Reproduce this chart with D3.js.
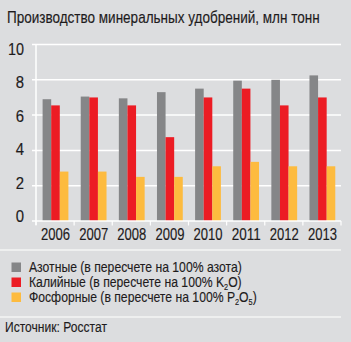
<!DOCTYPE html>
<html><head><meta charset="utf-8">
<script src="https://cdn.jsdelivr.net/npm/d3@7"></script>
<style>
html,body{margin:0;padding:0;background:#dcdddf;}
svg{display:block;}
text{font-family:"Liberation Sans",Arial,sans-serif;fill:#1e1b1c;stroke:#1e1b1c;stroke-width:0.15;}
</style></head>
<body><svg id="c" width="351" height="342"></svg>
<script>
const title = "Производство минеральных удобрений, млн тонн";
const years = ["2006","2007","2008","2009","2010","2011","2012","2013"];
const nitrogen = [6.9, 7.05, 6.95, 7.3, 7.5, 7.95, 8.0, 8.25];
const potash = [6.55, 7.0, 6.55, 4.75, 7.0, 7.5, 6.55, 7.0];
const phosphate = [2.8, 2.8, 2.5, 2.5, 3.1, 3.35, 3.1, 3.1];
const yTicks = [0, 2, 4, 6, 8, 10];
const seriesNames = ["nitrogen", "potash", "phosphate"];
const seriesColors = ["#858688", "#ec1c24", "#fdbb3f"];
const legendItems = [
  [{t:"Азотные (в пересчете на 100% азота)"}],
  [{t:"Калийные (в пересчете на 100% K"},{t:"2",sub:true},{t:"O)"}],
  [{t:"Фосфорные (в пересчете на 100% P"},{t:"2",sub:true},{t:"O"},{t:"5",sub:true},{t:")"}]
];
const source = "Источник: Росстат";

const svg = d3.select("#c");
svg.append("rect").attr("width",351).attr("height",342).attr("fill","#dcdddf");

// horizontally compress a text to a target width, anchored at its x
function fit(sel, w){
  sel.each(function(){
    const el = d3.select(this);
    const nat = this.getComputedTextLength();
    const k = w / nat;
    const x = +el.attr("x");
    el.attr("transform", `translate(${x},0) scale(${k},1) translate(${-x},0)`);
  });
}

const tt = svg.append("text").attr("x",7).attr("y",23.5).attr("font-size",16).text(title);
fit(tt, 313);

const y = d3.scaleLinear().domain([0,10]).range([221,44.5]);
const yLab = d3.scaleLinear().domain([0,10]).range([216.5,49]);
const x0 = d3.scaleBand().domain(years).range([36,341]).paddingInner(0).paddingOuter(0);
const x1 = d3.scaleBand().domain(seriesNames).range([6.6, 32.4]).padding(0);

// gridlines
svg.append("g").selectAll("line").data(yTicks.filter(d=>d>0)).join("line")
  .attr("x1",32).attr("x2",341).attr("y1",d=>y(d)).attr("y2",d=>y(d))
  .attr("stroke","#ffffff").attr("stroke-width",1.5);
// y labels
const yl = svg.append("g").selectAll("text").data(yTicks).join("text")
  .attr("x",24).attr("y",d=>yLab(d)).attr("dy","0.36em").attr("text-anchor","end")
  .attr("font-size",16).text(d=>d);
yl.each(function(d){ fit(d3.select(this), d>=10?16:8.3); });

// bars
const vals = {nitrogen, potash, phosphate};
const g = svg.append("g");
years.forEach((yr,i)=>{
  seriesNames.forEach((s,j)=>{
    g.append("rect")
      .attr("x", x0(yr)+x1(s))
      .attr("y", y(vals[s][i]))
      .attr("width", x1.bandwidth())
      .attr("height", y(0)-y(vals[s][i]))
      .attr("fill", seriesColors[j]);
  });
});

// axes lines
svg.append("line").attr("x1",36).attr("x2",36).attr("y1",y(10)).attr("y2",225).attr("stroke","#fff").attr("stroke-width",1.5);
svg.append("line").attr("x1",32).attr("x2",341).attr("y1",y(0)).attr("y2",y(0)).attr("stroke","#fff").attr("stroke-width",1.5);
const bounds = years.map(d=>x0(d)).concat([x0(years[years.length-1])+x0.bandwidth()]);
svg.append("g").selectAll("line").data(bounds).join("line")
  .attr("x1",d=>d).attr("x2",d=>d).attr("y1",221).attr("y2",225.5)
  .attr("stroke","#fff").attr("stroke-width",1.2);
// x labels
const xl = svg.append("g").selectAll("text").data(years).join("text")
  .attr("x",d=>x0(d)+x0.bandwidth()/2+0.5).attr("y",240).attr("text-anchor","middle")
  .attr("font-size",16).text(d=>d);
fit(xl, 29);

// separators
[250, 317].forEach(yy=>{
  svg.append("line").attr("x1",0).attr("x2",341).attr("y1",yy).attr("y2",yy).attr("stroke","#f4f4f4").attr("stroke-width",1.5);
});

// legend
const ly = [272, 287, 302];
const lw = [213, 213, 228];
legendItems.forEach((parts,i)=>{
  svg.append("rect").attr("x",11.5).attr("y",ly[i]-9.5).attr("width",9.5).attr("height",9.5).attr("fill",seriesColors[i]);
  const t = svg.append("text").attr("x",29).attr("y",ly[i]).attr("font-size",15);
  parts.forEach((p,k)=>{
    const prev = parts[k-1];
    const ts = t.append("tspan").text(p.t);
    if(p.sub) ts.attr("font-size",9).attr("dy",3);
    else if(prev && prev.sub) ts.attr("dy",-3);
  });
  fit(t, lw[i]);
});

const st = svg.append("text").attr("x",5).attr("y",332.5).attr("font-size",15).text(source);
fit(st, 102);
</script></body></html>
